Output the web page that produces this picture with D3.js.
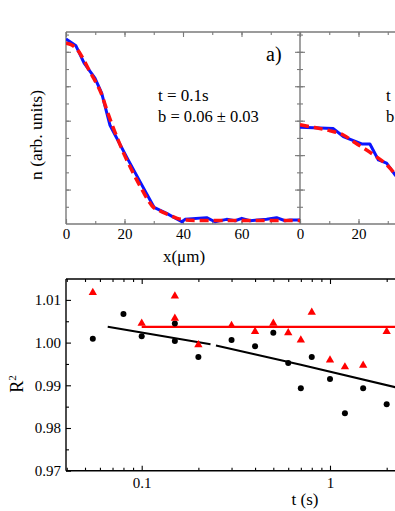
<!DOCTYPE html>
<html><head><meta charset="utf-8">
<script src="https://cdn.jsdelivr.net/npm/d3@7"></script>
<style>
body{margin:0;background:#fff}
svg{display:block}
</style>
</head><body>
<svg id="c" width="395" height="511"></svg>
<script>
// ---------- DATA ----------
// Panel a) profile (blue) and fit (red dashed)
const profAX = [0,3.4,6.2,9.9,12.2,15,20.7,25.3,30.1,34.4,39.6,40.7,48.1,50.9,54.9,57.8,60.1,62.9,65.6,68.6,72.0,74.9,76.6,80];
const profAY = [1.074,1.035,0.934,0.847,0.76,0.575,0.39,0.246,0.097,0.062,0.013,0.027,0.037,0.013,0.027,0.019,0.033,0.019,0.023,0.027,0.037,0.019,0.023,0.023];
const fitAX = [0,2,4,6,8,10,12,14,16,18,20,22,24,26,28,30,32,34,36,38,40,44,50,60,70,80];
const fitAY = [1.05,1.04,1.01,0.955,0.89,0.83,0.76,0.66,0.565,0.48,0.40,0.33,0.262,0.20,0.14,0.095,0.078,0.062,0.047,0.033,0.025,0.021,0.02,0.02,0.02,0.02];
// Panel b) profile and fit (partially visible)
const profBX = [0,11.4,14.8,21.1,23.9,26.8,29.6,32.5,35];
const profBY = [0.562,0.554,0.508,0.465,0.465,0.372,0.353,0.285,0.24];
const fitBX = [0,5,10.3,14.8,19,24.4,30.8,32.5,35];
const fitBY = [0.576,0.56,0.541,0.517,0.47,0.411,0.324,0.29,0.25];
// Panel labels
const xTickLabelsA = [0,20,40,60];
const xTickLabelsB = [0,20];
const textA = ["t = 0.1s","b = 0.06 \u00b1 0.03"];
const textB = ["t","b"];

// Bottom panel: R^2 vs t
const circT  = [0.055,0.08,0.1,0.15,0.15,0.2,0.3,0.4,0.5,0.6,0.7,0.8,1.0,1.2,1.5,2.0];
const circR2 = [1.0009,1.0067,1.0015,1.0045,1.0004,0.9966,1.0006,0.99915,1.0023,0.9952,0.9893,0.99665,0.9915,0.98347,0.9893,0.98557];
const triT   = [0.055,0.1,0.15,0.15,0.2,0.3,0.4,0.5,0.6,0.7,0.8,1.0,1.2,1.5,2.0];
const triR2  = [1.0117,1.0045,1.0109,1.0057,0.9995,1.0040,1.0026,1.0045,1.0023,1.0006,1.0071,0.9959,0.9943,0.9947,1.0026];
const blackFitT  = [0.066,0.232,null,0.248,0.7,2.3];
const blackFitR2 = [1.0037,0.99963,null,0.9993,0.9948,0.9894];
const redFitT  = [0.1,3.2];
const redFitR2 = [1.0037,1.0037];
const yTicksR2 = [0.97,0.98,0.99,1.00,1.01];
const xTicksT = [0.1,1];

// ---------- DRAW ----------
const W = 395, H = 511;
const svg = d3.select("#c");
const defs = svg.append("defs");
const FONT = '"Liberation Serif"';

// ---- Top panels ----
const topY0 = 224, topY1 = 32;
const xa = d3.scaleLinear().domain([0,80]).range([66,300]);
const xb = d3.scaleLinear().domain([0,80]).range([300,534]);
const yt = d3.scaleLinear().domain([0,1.115]).range([topY0,topY1]);
const gray = "#7a7a7a";

defs.append("clipPath").attr("id","clipA").append("rect").attr("x",66).attr("y",topY1).attr("width",234).attr("height",topY0-topY1);
defs.append("clipPath").attr("id","clipB").append("rect").attr("x",300).attr("y",topY1).attr("width",W-300).attr("height",topY0-topY1);

function stripDomain(g){ g.select(".domain").remove(); g.attr("font-family",null); }
function styleTicks(g,col){ g.selectAll(".tick line").attr("stroke",col).attr("stroke-width",1.1); }
function styleLabels(g,fs){ g.selectAll("text").style("font-family",FONT).attr("font-size",fs).attr("fill","#000"); }

const minorX = d3.range(0,81,10), majorX = d3.range(0,81,20);
const minorY = d3.range(1,12).map(d=>d/10), majorY = [0.2,0.4,0.6,0.8,1.0];

[xa,xb].forEach((xs,i)=>{
  svg.append("g").attr("transform",`translate(0,${topY0})`)
    .call(d3.axisBottom(xs).tickValues(minorX).tickSize(-3).tickFormat(""))
    .call(stripDomain).call(g=>styleTicks(g,gray));
  svg.append("g").attr("transform",`translate(0,${topY0})`)
    .call(d3.axisBottom(xs).tickValues(i===0?xTickLabelsA:xTickLabelsB).tickSize(-5).tickPadding(4))
    .call(stripDomain).call(g=>styleTicks(g,gray))
    .call(g=>styleLabels(g,15));
  svg.append("g").attr("transform",`translate(0,${topY1})`)
    .call(d3.axisTop(xs).tickValues(minorX).tickSize(-3).tickFormat(""))
    .call(stripDomain).call(g=>styleTicks(g,gray));
  svg.append("g").attr("transform",`translate(0,${topY1})`)
    .call(d3.axisTop(xs).tickValues(majorX).tickSize(-5).tickFormat(""))
    .call(stripDomain).call(g=>styleTicks(g,gray));
});
[[66,"L"],[300,"R"],[300,"L"]].forEach(([x0,side])=>{
  const mk = side==="L" ? d3.axisLeft : d3.axisRight;
  svg.append("g").attr("transform",`translate(${x0},0)`)
    .call(mk(yt).tickValues(minorY).tickSize(-3).tickFormat(""))
    .call(stripDomain).call(g=>styleTicks(g,gray));
  svg.append("g").attr("transform",`translate(${x0},0)`)
    .call(mk(yt).tickValues(majorY).tickSize(-5).tickFormat(""))
    .call(stripDomain).call(g=>styleTicks(g,gray));
});
const frameTop = svg.append("g").attr("stroke",gray).attr("stroke-width",1.4).attr("fill","none");
frameTop.append("line").attr("x1",66).attr("x2",W).attr("y1",topY1).attr("y2",topY1);
frameTop.append("line").attr("x1",66).attr("x2",W).attr("y1",topY0).attr("y2",topY0);
frameTop.append("line").attr("x1",66).attr("x2",66).attr("y1",topY1).attr("y2",topY0);
frameTop.append("line").attr("x1",300).attr("x2",300).attr("y1",topY1).attr("y2",topY0);

function drawProfile(xs, px, py, fx, fy, clip){
  const g = svg.append("g").attr("clip-path",`url(#${clip})`);
  const lp = d3.line().x((d,i)=>xs(px[i])).y((d,i)=>yt(py[i]));
  g.append("path").attr("d",lp(px)).attr("fill","none").attr("stroke","#0a14ff").attr("stroke-width",3).attr("stroke-linejoin","round");
  const lf = d3.line().x((d,i)=>xs(fx[i])).y((d,i)=>yt(fy[i])).curve(d3.curveMonotoneX);
  g.append("path").attr("d",lf(fx)).attr("fill","none").attr("stroke","#ff1010").attr("stroke-width",3.5).attr("stroke-dasharray","9,5");
}
drawProfile(xa, profAX, profAY, fitAX, fitAY, "clipA");
drawProfile(xb, profBX, profBY, fitBX, fitBY, "clipB");

const T = (x,y,fs,s)=>svg.append("text").attr("x",x).attr("y",y).attr("font-size",fs).style("font-family",FONT).attr("fill","#000").text(s);
T(158,101,17,textA[0]);
T(158,122,16.5,textA[1]);
T(266,61,20,"a)");
T(386,101,17,textB[0]);
T(386,122,16.5,textB[1]);
svg.append("text").attr("transform","translate(42,135) rotate(-90)").attr("text-anchor","middle").attr("font-size",17.5).style("font-family",FONT).text("n (arb. units)");
T(184,262,17,"x(\u03bcm)").attr("text-anchor","middle");

// ---- Bottom panel ----
const bY0 = 470.7, bY1 = 279;
const xt = d3.scaleLog().domain([Math.pow(10,-1.402), Math.pow(10,0.5)]).range([66, 66+188.3*1.902]);
const yr = d3.scaleLinear().domain([0.97,1.015]).range([bY0, bY0-4.5*42.7]);
defs.append("clipPath").attr("id","clipC").append("rect").attr("x",66).attr("y",bY1-6).attr("width",W-66).attr("height",bY0-bY1+6);

const minorT = [0.04,0.05,0.06,0.07,0.08,0.09,0.2,0.3,0.4,0.5,0.6,0.7,0.8,0.9,2,3];
svg.append("g").attr("transform",`translate(0,${bY0})`)
  .call(d3.axisBottom(xt).tickValues(minorT).tickSize(-3).tickFormat(""))
  .call(stripDomain).call(g=>styleTicks(g,"#000"));
svg.append("g").attr("transform",`translate(0,${bY0})`)
  .call(d3.axisBottom(xt).tickValues(xTicksT).tickSize(-5).tickPadding(7).tickFormat(d=>String(d)))
  .call(stripDomain).call(g=>styleTicks(g,"#000"))
  .call(g=>styleLabels(g,15));
svg.append("g").attr("transform",`translate(0,${bY1})`)
  .call(d3.axisTop(xt).tickValues(minorT).tickSize(-3).tickFormat(""))
  .call(stripDomain).call(g=>styleTicks(g,"#000"));
svg.append("g").attr("transform",`translate(0,${bY1})`)
  .call(d3.axisTop(xt).tickValues(xTicksT).tickSize(-5).tickFormat(""))
  .call(stripDomain).call(g=>styleTicks(g,"#000"));
svg.append("g").attr("transform",`translate(66,0)`)
  .call(d3.axisLeft(yr).tickValues([0.975,0.985,0.995,1.005]).tickSize(-3).tickFormat(""))
  .call(stripDomain).call(g=>styleTicks(g,"#000"));
svg.append("g").attr("transform",`translate(66,0)`)
  .call(d3.axisLeft(yr).tickValues(yTicksR2).tickSize(-5).tickPadding(5).tickFormat(d3.format(".2f")))
  .call(stripDomain).call(g=>styleTicks(g,"#000"))
  .call(g=>styleLabels(g,15));

const frameB = svg.append("g").attr("stroke","#000").attr("stroke-width",1.4).attr("fill","none");
frameB.append("line").attr("x1",66).attr("x2",W).attr("y1",bY1).attr("y2",bY1);
frameB.append("line").attr("x1",66).attr("x2",W).attr("y1",bY0).attr("y2",bY0);
frameB.append("line").attr("x1",66).attr("x2",66).attr("y1",bY1).attr("y2",bY0);

const gc = svg.append("g").attr("clip-path","url(#clipC)");
const lineBlack = d3.line().defined((d,i)=>blackFitT[i]!==null).x((d,i)=>xt(blackFitT[i])).y((d,i)=>yr(blackFitR2[i]));
gc.append("path").attr("d",lineBlack(blackFitT)).attr("fill","none").attr("stroke","#000").attr("stroke-width",2);
const lineRed = d3.line().x((d,i)=>xt(redFitT[i])).y((d,i)=>yr(redFitR2[i]));
gc.append("path").attr("d",lineRed(redFitT)).attr("fill","none").attr("stroke","#ff0000").attr("stroke-width",2.2);

gc.selectAll("circle.pt").data(circT).enter().append("circle").attr("class","pt")
  .attr("cx",(d)=>xt(d)).attr("cy",(d,i)=>yr(circR2[i])).attr("r",3).attr("fill","#000");
const tri = d3.symbol().type(d3.symbolTriangle).size(30);
gc.selectAll("path.tri").data(triT).enter().append("path").attr("class","tri")
  .attr("d",tri).attr("transform",(d,i)=>`translate(${xt(d)},${yr(triR2[i])})`).attr("fill","#ff0000");

const rl = svg.append("text").attr("transform","translate(23,384) rotate(-90)").attr("text-anchor","middle").attr("font-size",18).style("font-family",FONT);
rl.append("tspan").text("R");
rl.append("tspan").attr("dy",-7).attr("font-size",11).text("2");
T(305,505,17,"t (s)").attr("text-anchor","middle");
</script>
</body></html>
